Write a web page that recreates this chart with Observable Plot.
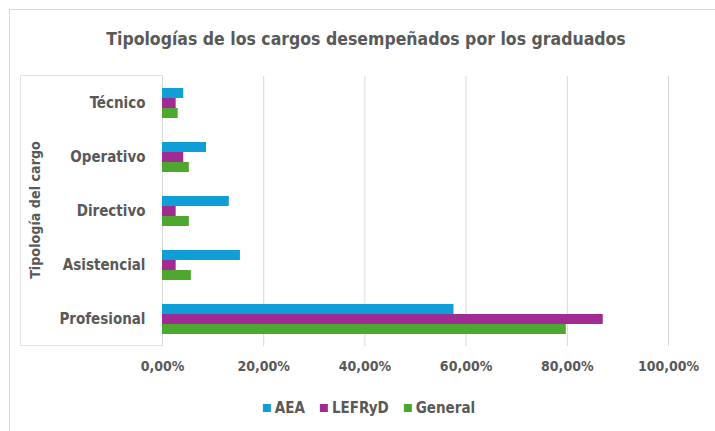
<!DOCTYPE html>
<html>
<head>
<meta charset="utf-8">
<script src="https://cdn.jsdelivr.net/npm/d3@7"></script>
<script src="https://cdn.jsdelivr.net/npm/@observablehq/plot@0.6"></script>
<style>
  body { margin: 0; background: #fff; }
  #chart { position: relative; width: 715px; height: 431px; overflow: hidden;
           font-family: "Liberation Sans Narrow", "DejaVu Sans Condensed", "Roboto", sans-serif; color: #595959; }
  #frame { position: absolute; left: 9px; top: 9px; width: 900px; height: 600px; border: 1px solid #d9d9d9; box-sizing: border-box; }
  #labelbox { position: absolute; left: 20px; top: 75px; width: 143px; height: 271px; border: 1px solid #e3e3e3; box-sizing: border-box; }
  #title { position: absolute; left: 366px; top: 29px; transform: translateX(-50%); white-space: nowrap;
           font-size: 17.5px; font-weight: bold; }
  #ytitle { position: absolute; left: 35px; top: 210px; transform: translate(-50%, -50%) rotate(-90deg); white-space: nowrap;
            font-size: 14.2px; font-weight: bold; }
  #legend { position: absolute; left: 369px; top: 399px; transform: translateX(-50%); display: flex; gap: 15px;
            font-size: 15px; font-weight: bold; white-space: nowrap; }
  #legend span.item { display: flex; align-items: center; gap: 4px; }
  #legend span.sw { display: inline-block; width: 8px; height: 8px; }
  svg { position: absolute; left: 0; top: 0; }
</style>
</head>
<body>
<div id="chart">
  <div id="frame"></div>
  <div id="labelbox"></div>
  <div id="title"></div>
  <div id="ytitle"></div>
  <div id="legend"></div>
</div>
<script>
const title = "Tipologías de los cargos desempeñados por los graduados";
const yTitle = "Tipología del cargo";
const categories = ["Técnico", "Operativo", "Directivo", "Asistencial", "Profesional"];
const series = ["AEA", "LEFRyD", "General"];
const aea     = [4.2, 8.7, 13.2, 15.4, 57.6];
const lefryd  = [2.7, 4.2, 2.7, 2.7, 87.1];
const general = [3.1, 5.3, 5.3, 5.7, 79.8];
const colors = ["#0F9ED5", "#A02B93", "#4EA72E"];
const xTicks = [0, 20, 40, 60, 80, 100];

const valuesBySeries = [aea, lefryd, general];
const rows = [];
categories.forEach((c, i) => {
  series.forEach((s, j) => rows.push({cat: c, series: s, value: valuesBySeries[j][i]}));
});
const fmt = d => d.toFixed(2).replace(".", ",") + "%";
const font = "\"Liberation Sans Narrow\", \"DejaVu Sans Condensed\", Roboto, sans-serif";

const chart = Plot.plot({
  width: 715, height: 431,
  marginLeft: 162, marginRight: 47, marginTop: 75, marginBottom: 84,
  style: {background: "transparent", color: "#595959", fontFamily: font, overflow: "visible"},
  x: {domain: [0, 100], label: null},
  fy: {domain: categories, padding: 0, label: null},
  y: {domain: series, paddingInner: 0, paddingOuter: 0.97, axis: null},
  color: {domain: series, range: colors},
  marks: [
    Plot.gridX(xTicks, {stroke: "#d9d9d9", strokeOpacity: 1}),
    Plot.barX(rows, {fy: "cat", y: "series", x: "value", fill: "series"}),
    Plot.axisX(xTicks, {tickSize: 0, tickPadding: 15, tickFormat: fmt, fontSize: 14, fontWeight: "bold", label: null}),
    Plot.axisFy({anchor: "left", tickSize: 0, tickPadding: 17, fontSize: 15, fontWeight: "bold", label: null})
  ]
});
document.getElementById("chart").appendChild(chart);

document.getElementById("title").textContent = title;
document.getElementById("ytitle").textContent = yTitle;
const legend = document.getElementById("legend");
series.forEach((s, j) => {
  const item = document.createElement("span");
  item.className = "item";
  const sw = document.createElement("span");
  sw.className = "sw";
  sw.style.background = colors[j];
  item.appendChild(sw);
  item.appendChild(document.createTextNode(s));
  legend.appendChild(item);
});
</script>
</body>
</html>
